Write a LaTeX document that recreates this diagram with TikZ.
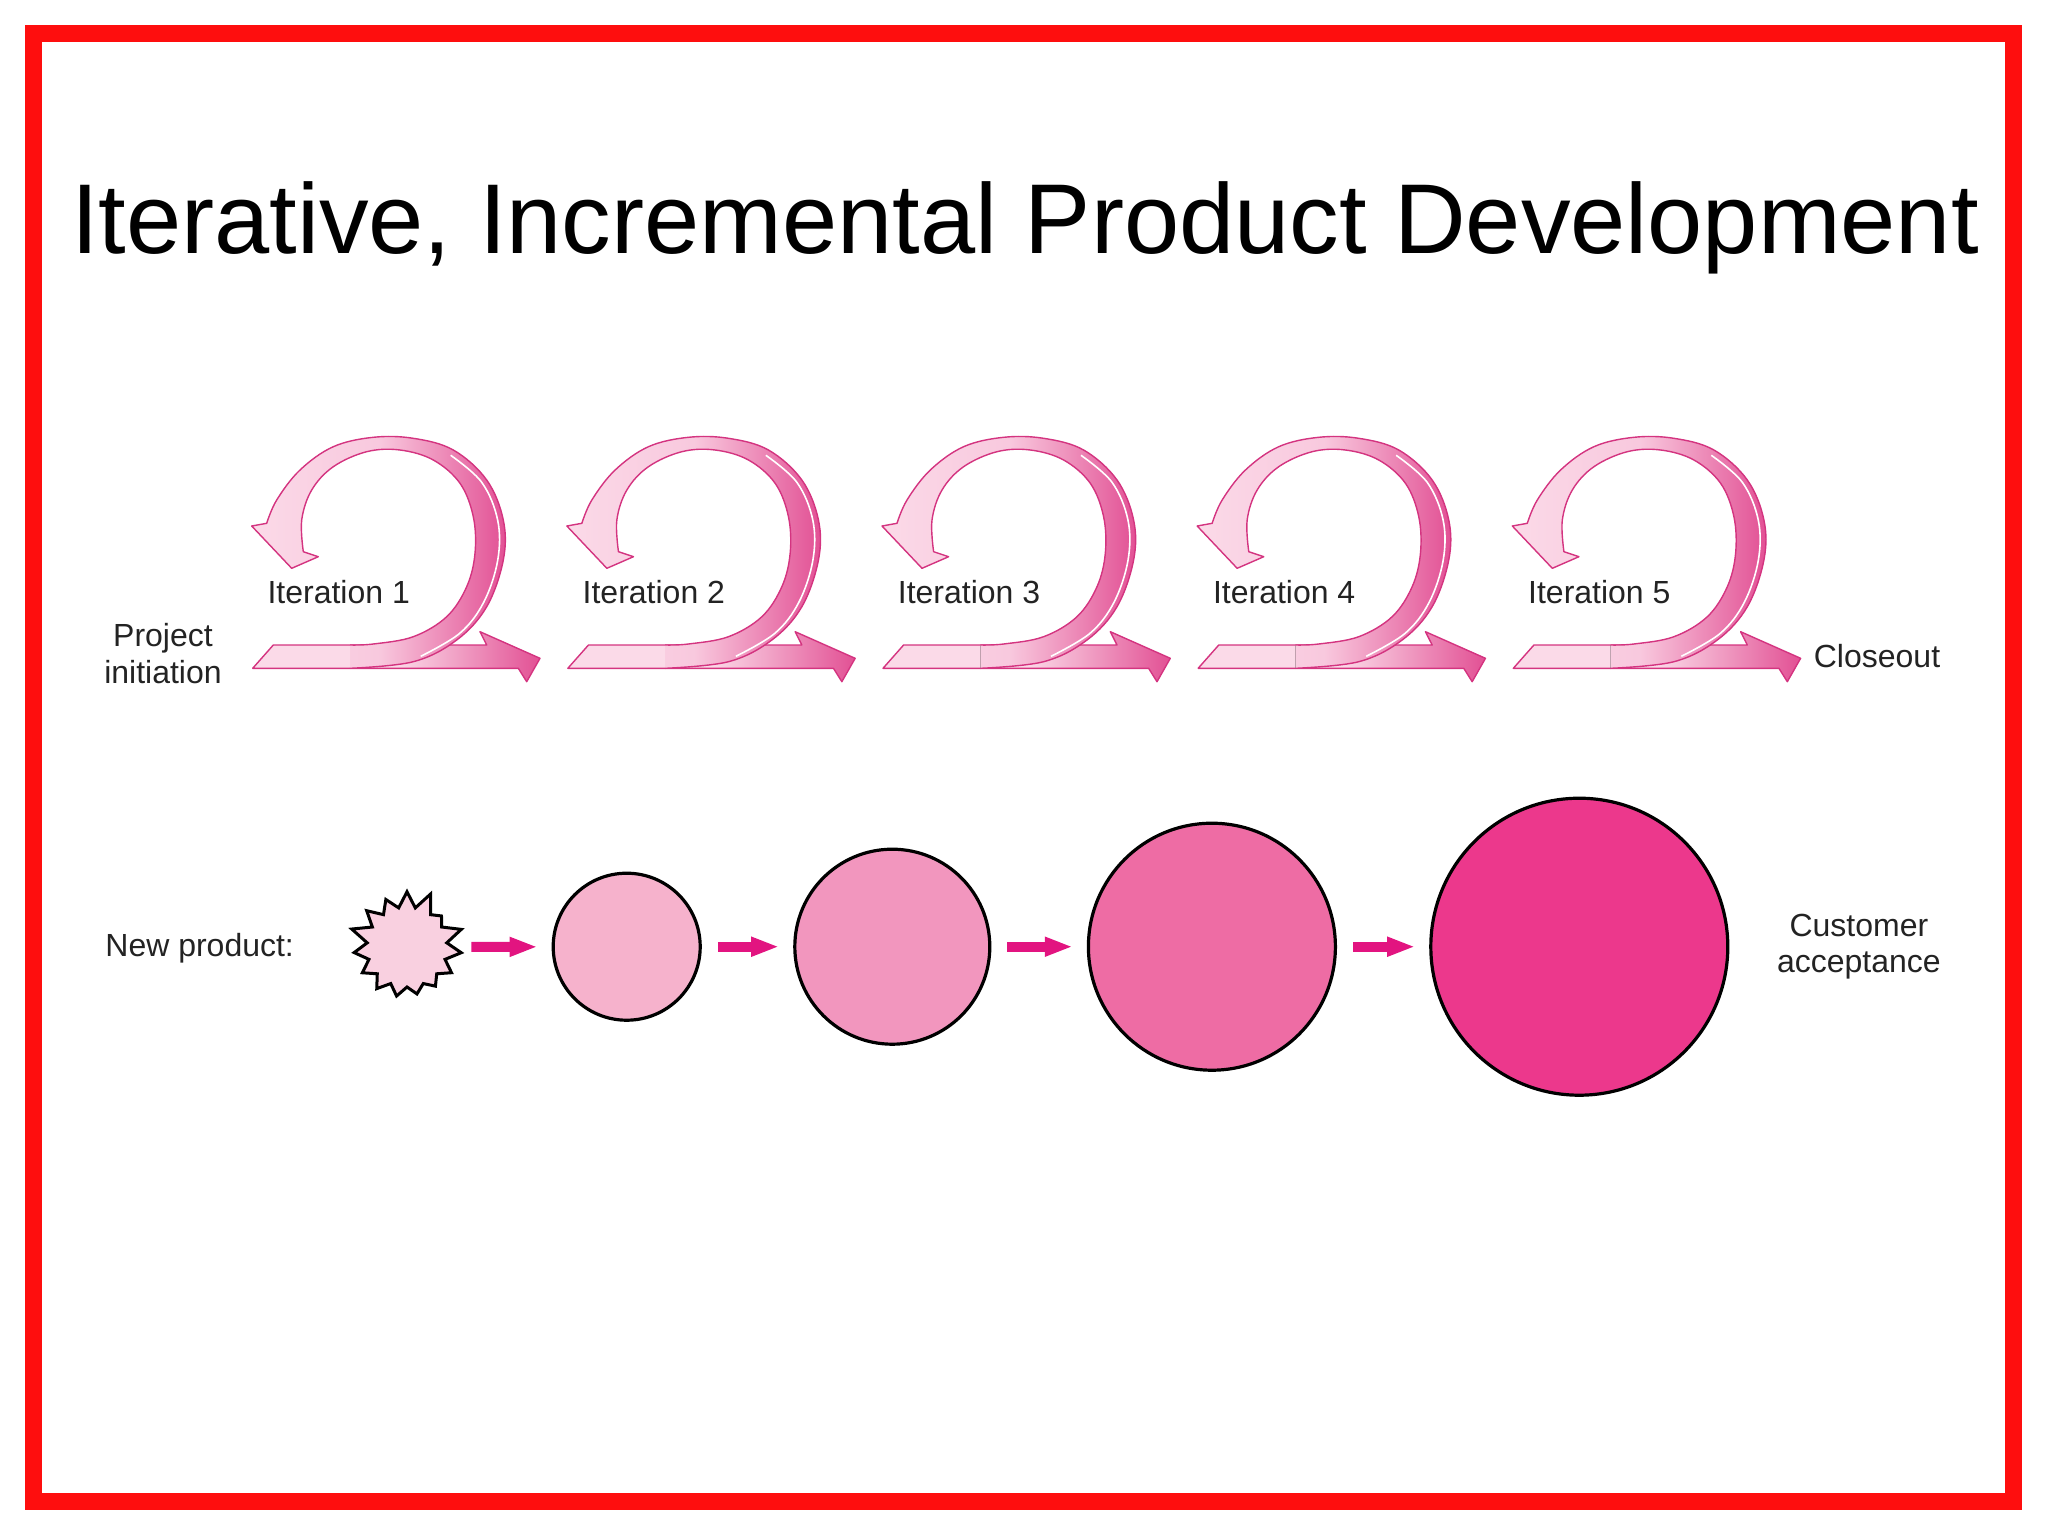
\documentclass[tikz,border=0pt]{standalone}
\usepackage{fontspec}
\setmainfont{Liberation Sans}
\usetikzlibrary{positioning, arrows.meta, shapes.symbols}
\definecolor{framered}{RGB}{254,14,14}
\definecolor{ribbondark}{RGB}{226,80,148}
\definecolor{ribbonmid}{RGB}{242,160,198}
\definecolor{ribbonlight}{RGB}{251,218,232}
\definecolor{ribbonedge}{RGB}{212,52,128}
\definecolor{arrowpink}{RGB}{226,20,128}
\definecolor{burstfill}{RGB}{249,208,224}
\definecolor{prodA}{RGB}{246,178,204}
\definecolor{prodB}{RGB}{242,150,190}
\definecolor{prodC}{RGB}{238,108,164}
\definecolor{prodD}{RGB}{236,56,140}
\definecolor{labelgray}{RGB}{35,35,35}
\tikzset{
    x=0.5pt, y=-0.5pt, % one unit is one pixel of the slide, y runs downwards
    ribbon/.style={draw=ribbonedge, line width=0.7pt, line join=round}, % the curled iteration arrows
    lbl/.style={font=\fontsize{16}{18.2}\selectfont, text=labelgray, align=center, inner sep=0pt},
    prod/.style={circle, draw=black, line width=1.6pt, inner sep=0pt}, % growing product
    growarrow/.style={draw=arrowpink, line width=5pt, -{Triangle[length=14pt,width=9pt]}, shorten <=8pt, shorten >=7pt},
    }
\begin{document}
\begin{tikzpicture}
\useasboundingbox (0,0) rectangle (2048,1536);
\draw[framered, line width=8.5pt] (33.5,33.5) rectangle (2013.5,1501.5);

\node[font=\fontsize{49.6}{58}\selectfont, anchor=base] (title) at (1025,253) {Iterative, Incremental Product Development};

% one curled arrow per iteration
\foreach \i in {1,...,5} {
  \begin{scope}[shift={({252.7+315.15*(\i-1)},668.3)}]
    \draw[ribbon, left color=ribbonlight, right color=ribbondark, middle color=ribbonlight]
      (0,0) -- (20.6,-23.3) -- (234,-23.3) -- (227.3,-36.6) -- (287.3,-10) -- (274,13.4) -- (265.6,0) -- cycle;
    % the loop: filled first, then outlined without its joint to the band
    \fill[left color=ribbonlight, right color=ribbondark, middle color=ribbonlight!70!ribbonmid]
      plot[smooth, tension=0.6] coordinates {(97.3,0) (160.6,-6.6) (204,-28.3) (234,-61.6) (250.6,-108.3) (250.6,-148.3) (234,-188.3) (200.6,-218.3) (160.6,-230) (120.6,-231) (80.6,-221.6) (47.3,-198.3) (24,-168.3) (14,-145)}
      -- (-1,-142.3) -- (39,-100) -- (65.6,-111.6)
      -- plot[smooth, tension=0.6] coordinates {(50.6,-116.6) (49,-148.3) (59,-178.3) (80.6,-201.6) (114,-216.6) (147.3,-218.3) (180.6,-208.3) (207.3,-185) (220.6,-151.6) (222.3,-115) (214,-81.6) (194,-51.6) (160.6,-31.6) (120.6,-24.3) (97.3,-23.3)}
      -- cycle;
    \draw[ribbon]
      plot[smooth, tension=0.6] coordinates {(97.3,0) (160.6,-6.6) (204,-28.3) (234,-61.6) (250.6,-108.3) (250.6,-148.3) (234,-188.3) (200.6,-218.3) (160.6,-230) (120.6,-231) (80.6,-221.6) (47.3,-198.3) (24,-168.3) (14,-145)}
      -- (-1,-142.3) -- (39,-100) -- (65.6,-111.6)
      -- plot[smooth, tension=0.6] coordinates {(50.6,-116.6) (49,-148.3) (59,-178.3) (80.6,-201.6) (114,-216.6) (147.3,-218.3) (180.6,-208.3) (207.3,-185) (220.6,-151.6) (222.3,-115) (214,-81.6) (194,-51.6) (160.6,-31.6) (120.6,-24.3) (97.3,-23.3)};
    \draw[white, line width=0.8pt] plot[smooth, tension=0.6] coordinates {(168,-12) (207,-35) (231,-66) (245,-108) (245,-148) (229,-186) (198,-213)};
    \node[lbl, anchor=base] (it\i) at (86,-65.3) {Iteration \i};
  \end{scope}
}
\node[lbl] (init) at (163,653.4) {Project\\initiation};
\node[lbl, anchor=base] (close) at (1877,667) {Closeout};

% the product grows
\node[lbl, anchor=base west] (newprod) at (105,956.7) {New product:};
\node[starburst, draw=black, fill=burstfill, line width=1.5pt, starburst points=15, starburst point height=10pt, random starburst=57, minimum width=60pt, minimum height=60pt, inner sep=0pt] (burst) at (407,947) {};
\node[prod, fill=prodA, minimum size=73.5pt] (c1) at (626.7,946.7) {};
\node[prod, fill=prodB, minimum size=97.5pt, right=45.7pt of c1] (c2) {};
\node[prod, fill=prodC, minimum size=123.5pt, right=47.7pt of c2] (c3) {};
\node[prod, fill=prodD, minimum size=148.5pt, right=46.1pt of c3] (c4) {};
\node[lbl, right=23.6pt of c4] (accept) {Customer\\acceptance};

\draw[growarrow] (burst) -- (c1);
\draw[growarrow] (c1) -- (c2);
\draw[growarrow] (c2) -- (c3);
\draw[growarrow] (c3) -- (c4);
\end{tikzpicture}
\end{document}
